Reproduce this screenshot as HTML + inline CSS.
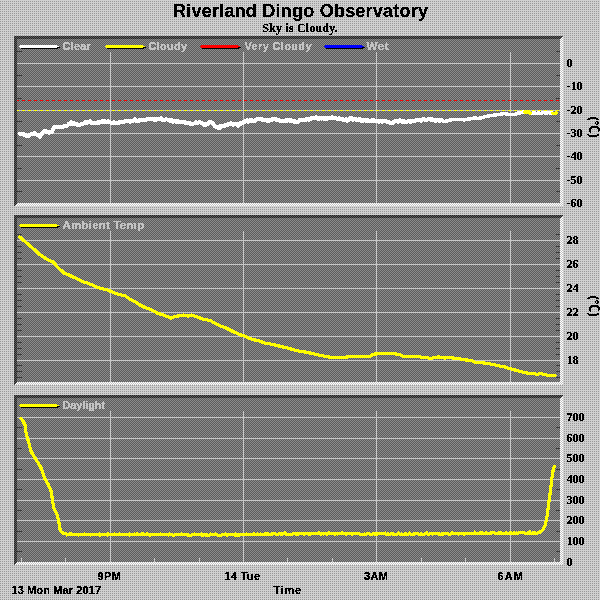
<!DOCTYPE html>
<html><head><meta charset="utf-8"><title>Riverland Dingo Observatory</title>
<style>
html,body{margin:0;padding:0;background:#d0d0d0;}
svg{display:block;}
text{font-family:"Liberation Sans",Arial,sans-serif;}
.ax{font-family:"Liberation Serif","Times New Roman",serif;font-weight:bold;font-size:12px;fill:#000;}
.lg{font-family:"Liberation Sans",Arial,sans-serif;font-weight:bold;font-size:11px;fill:#c4c4c4;}
.xl{font-family:"Liberation Sans",Arial,sans-serif;font-weight:bold;font-size:11px;fill:#000;}
</style></head><body>
<svg width="600" height="600" viewBox="0 0 600 600" shape-rendering="crispEdges">
<defs>
<pattern id="bg" width="2" height="2" patternUnits="userSpaceOnUse"><rect width="2" height="2" fill="#d0d0d0"/><rect x="0" y="1" width="1" height="1" fill="#989898"/></pattern>
<pattern id="pl" width="2" height="2" patternUnits="userSpaceOnUse"><rect width="2" height="2" fill="#8c8c8c"/><rect x="1" y="0" width="1" height="1" fill="#5c5c5c"/><rect x="0" y="1" width="1" height="1" fill="#5c5c5c"/></pattern>
<pattern id="dk" width="2" height="2" patternUnits="userSpaceOnUse"><rect width="2" height="2" fill="#5e5e5e"/><rect x="1" y="0" width="1" height="1" fill="#242424"/><rect x="0" y="1" width="1" height="1" fill="#242424"/></pattern>
<pattern id="lt" width="2" height="2" patternUnits="userSpaceOnUse"><rect width="2" height="2" fill="#c4c4c4"/><rect x="1" y="0" width="1" height="1" fill="#ffffff"/><rect x="0" y="1" width="1" height="1" fill="#ffffff"/></pattern>
<pattern id="tk" width="2" height="2" patternUnits="userSpaceOnUse"><rect width="2" height="2" fill="#2a2a2a"/><rect x="1" y="0" width="1" height="1" fill="#5c5c5c"/><rect x="0" y="1" width="1" height="1" fill="#5c5c5c"/></pattern>
</defs>
<filter id="crisp" x="-5%" y="-20%" width="110%" height="140%"><feComponentTransfer><feFuncA type="discrete" tableValues="0 1 1"/></feComponentTransfer></filter>
<rect width="600" height="600" fill="url(#bg)"/>

<text x="300.5" y="17" text-anchor="middle" textLength="255" lengthAdjust="spacing" filter="url(#crisp)" style="font-weight:bold;font-size:18px;" fill="#000">Riverland Dingo Observatory</text>
<text x="300" y="32" text-anchor="middle" textLength="75.5" lengthAdjust="spacing" filter="url(#crisp)" style="font-family:'Liberation Serif',serif;font-weight:bold;font-size:12px;" fill="#000">Sky is Cloudy.</text>
<rect x="14" y="36" width="549" height="170" fill="url(#lt)"/>
<polygon points="14,36 563,36 560,39 17,39 17,203 14,206" fill="url(#dk)"/>
<rect x="17" y="39" width="543" height="164" fill="url(#pl)"/>
<rect x="14" y="215" width="549" height="170" fill="url(#lt)"/>
<polygon points="14,215 563,215 560,218 17,218 17,382 14,385" fill="url(#dk)"/>
<rect x="17" y="218" width="543" height="164" fill="url(#pl)"/>
<rect x="14" y="395" width="549" height="170" fill="url(#lt)"/>
<polygon points="14,395 563,395 560,398 17,398 17,562 14,565" fill="url(#dk)"/>
<rect x="17" y="398" width="543" height="164" fill="url(#pl)"/>
<rect x="17" y="63" width="543" height="1" fill="#c8c8c8"/>
<rect x="17" y="86" width="543" height="1" fill="#c8c8c8"/>
<rect x="17" y="110" width="543" height="1" fill="#c8c8c8"/>
<rect x="17" y="133" width="543" height="1" fill="#c8c8c8"/>
<rect x="17" y="156" width="543" height="1" fill="#c8c8c8"/>
<rect x="17" y="180" width="543" height="1" fill="#c8c8c8"/>
<rect x="110" y="52" width="1" height="151" fill="#c8c8c8"/>
<rect x="243" y="52" width="1" height="151" fill="#c8c8c8"/>
<rect x="376" y="52" width="1" height="151" fill="#c8c8c8"/>
<rect x="510" y="52" width="1" height="151" fill="#c8c8c8"/>
<rect x="17" y="51" width="5" height="1" fill="#3a3a3a"/><rect x="556" y="51" width="4" height="1" fill="#3a3a3a"/>
<rect x="17" y="75" width="5" height="1" fill="#3a3a3a"/><rect x="556" y="75" width="4" height="1" fill="#3a3a3a"/>
<rect x="17" y="98" width="5" height="1" fill="#3a3a3a"/><rect x="556" y="98" width="4" height="1" fill="#3a3a3a"/>
<rect x="17" y="121" width="5" height="1" fill="#3a3a3a"/><rect x="556" y="121" width="4" height="1" fill="#3a3a3a"/>
<rect x="17" y="145" width="5" height="1" fill="#3a3a3a"/><rect x="556" y="145" width="4" height="1" fill="#3a3a3a"/>
<rect x="17" y="168" width="5" height="1" fill="#3a3a3a"/><rect x="556" y="168" width="4" height="1" fill="#3a3a3a"/>
<rect x="17" y="191" width="5" height="1" fill="#3a3a3a"/><rect x="556" y="191" width="4" height="1" fill="#3a3a3a"/>
<rect x="17" y="100" width="2" height="1" fill="#ff0000"/>
<rect x="17" y="110" width="2" height="1" fill="#ffff00"/>
<rect x="22" y="100" width="3" height="1" fill="#ff0000"/>
<rect x="22" y="110" width="3" height="1" fill="#ffff00"/>
<rect x="28" y="100" width="3" height="1" fill="#ff0000"/>
<rect x="28" y="110" width="3" height="1" fill="#ffff00"/>
<rect x="34" y="100" width="3" height="1" fill="#ff0000"/>
<rect x="34" y="110" width="3" height="1" fill="#ffff00"/>
<rect x="40" y="100" width="3" height="1" fill="#ff0000"/>
<rect x="40" y="110" width="3" height="1" fill="#ffff00"/>
<rect x="46" y="100" width="3" height="1" fill="#ff0000"/>
<rect x="46" y="110" width="3" height="1" fill="#ffff00"/>
<rect x="52" y="100" width="3" height="1" fill="#ff0000"/>
<rect x="52" y="110" width="3" height="1" fill="#ffff00"/>
<rect x="58" y="100" width="3" height="1" fill="#ff0000"/>
<rect x="58" y="110" width="3" height="1" fill="#ffff00"/>
<rect x="64" y="100" width="3" height="1" fill="#ff0000"/>
<rect x="64" y="110" width="3" height="1" fill="#ffff00"/>
<rect x="70" y="100" width="3" height="1" fill="#ff0000"/>
<rect x="70" y="110" width="3" height="1" fill="#ffff00"/>
<rect x="76" y="100" width="3" height="1" fill="#ff0000"/>
<rect x="76" y="110" width="3" height="1" fill="#ffff00"/>
<rect x="82" y="100" width="3" height="1" fill="#ff0000"/>
<rect x="82" y="110" width="3" height="1" fill="#ffff00"/>
<rect x="88" y="100" width="3" height="1" fill="#ff0000"/>
<rect x="88" y="110" width="3" height="1" fill="#ffff00"/>
<rect x="94" y="100" width="3" height="1" fill="#ff0000"/>
<rect x="94" y="110" width="3" height="1" fill="#ffff00"/>
<rect x="100" y="100" width="3" height="1" fill="#ff0000"/>
<rect x="100" y="110" width="3" height="1" fill="#ffff00"/>
<rect x="106" y="100" width="3" height="1" fill="#ff0000"/>
<rect x="106" y="110" width="3" height="1" fill="#ffff00"/>
<rect x="112" y="100" width="3" height="1" fill="#ff0000"/>
<rect x="112" y="110" width="3" height="1" fill="#ffff00"/>
<rect x="118" y="100" width="3" height="1" fill="#ff0000"/>
<rect x="118" y="110" width="3" height="1" fill="#ffff00"/>
<rect x="124" y="100" width="3" height="1" fill="#ff0000"/>
<rect x="124" y="110" width="3" height="1" fill="#ffff00"/>
<rect x="130" y="100" width="3" height="1" fill="#ff0000"/>
<rect x="130" y="110" width="3" height="1" fill="#ffff00"/>
<rect x="136" y="100" width="3" height="1" fill="#ff0000"/>
<rect x="136" y="110" width="3" height="1" fill="#ffff00"/>
<rect x="142" y="100" width="3" height="1" fill="#ff0000"/>
<rect x="142" y="110" width="3" height="1" fill="#ffff00"/>
<rect x="148" y="100" width="3" height="1" fill="#ff0000"/>
<rect x="148" y="110" width="3" height="1" fill="#ffff00"/>
<rect x="154" y="100" width="3" height="1" fill="#ff0000"/>
<rect x="154" y="110" width="3" height="1" fill="#ffff00"/>
<rect x="160" y="100" width="3" height="1" fill="#ff0000"/>
<rect x="160" y="110" width="3" height="1" fill="#ffff00"/>
<rect x="166" y="100" width="3" height="1" fill="#ff0000"/>
<rect x="166" y="110" width="3" height="1" fill="#ffff00"/>
<rect x="172" y="100" width="3" height="1" fill="#ff0000"/>
<rect x="172" y="110" width="3" height="1" fill="#ffff00"/>
<rect x="178" y="100" width="3" height="1" fill="#ff0000"/>
<rect x="178" y="110" width="3" height="1" fill="#ffff00"/>
<rect x="184" y="100" width="3" height="1" fill="#ff0000"/>
<rect x="184" y="110" width="3" height="1" fill="#ffff00"/>
<rect x="190" y="100" width="3" height="1" fill="#ff0000"/>
<rect x="190" y="110" width="3" height="1" fill="#ffff00"/>
<rect x="196" y="100" width="3" height="1" fill="#ff0000"/>
<rect x="196" y="110" width="3" height="1" fill="#ffff00"/>
<rect x="202" y="100" width="3" height="1" fill="#ff0000"/>
<rect x="202" y="110" width="3" height="1" fill="#ffff00"/>
<rect x="208" y="100" width="3" height="1" fill="#ff0000"/>
<rect x="208" y="110" width="3" height="1" fill="#ffff00"/>
<rect x="214" y="100" width="3" height="1" fill="#ff0000"/>
<rect x="214" y="110" width="3" height="1" fill="#ffff00"/>
<rect x="220" y="100" width="3" height="1" fill="#ff0000"/>
<rect x="220" y="110" width="3" height="1" fill="#ffff00"/>
<rect x="226" y="100" width="3" height="1" fill="#ff0000"/>
<rect x="226" y="110" width="3" height="1" fill="#ffff00"/>
<rect x="232" y="100" width="3" height="1" fill="#ff0000"/>
<rect x="232" y="110" width="3" height="1" fill="#ffff00"/>
<rect x="238" y="100" width="3" height="1" fill="#ff0000"/>
<rect x="238" y="110" width="3" height="1" fill="#ffff00"/>
<rect x="244" y="100" width="3" height="1" fill="#ff0000"/>
<rect x="244" y="110" width="3" height="1" fill="#ffff00"/>
<rect x="250" y="100" width="3" height="1" fill="#ff0000"/>
<rect x="250" y="110" width="3" height="1" fill="#ffff00"/>
<rect x="256" y="100" width="3" height="1" fill="#ff0000"/>
<rect x="256" y="110" width="3" height="1" fill="#ffff00"/>
<rect x="262" y="100" width="3" height="1" fill="#ff0000"/>
<rect x="262" y="110" width="3" height="1" fill="#ffff00"/>
<rect x="268" y="100" width="3" height="1" fill="#ff0000"/>
<rect x="268" y="110" width="3" height="1" fill="#ffff00"/>
<rect x="274" y="100" width="3" height="1" fill="#ff0000"/>
<rect x="274" y="110" width="3" height="1" fill="#ffff00"/>
<rect x="280" y="100" width="3" height="1" fill="#ff0000"/>
<rect x="280" y="110" width="3" height="1" fill="#ffff00"/>
<rect x="286" y="100" width="3" height="1" fill="#ff0000"/>
<rect x="286" y="110" width="3" height="1" fill="#ffff00"/>
<rect x="292" y="100" width="3" height="1" fill="#ff0000"/>
<rect x="292" y="110" width="3" height="1" fill="#ffff00"/>
<rect x="298" y="100" width="3" height="1" fill="#ff0000"/>
<rect x="298" y="110" width="3" height="1" fill="#ffff00"/>
<rect x="304" y="100" width="3" height="1" fill="#ff0000"/>
<rect x="304" y="110" width="3" height="1" fill="#ffff00"/>
<rect x="310" y="100" width="3" height="1" fill="#ff0000"/>
<rect x="310" y="110" width="3" height="1" fill="#ffff00"/>
<rect x="316" y="100" width="3" height="1" fill="#ff0000"/>
<rect x="316" y="110" width="3" height="1" fill="#ffff00"/>
<rect x="322" y="100" width="3" height="1" fill="#ff0000"/>
<rect x="322" y="110" width="3" height="1" fill="#ffff00"/>
<rect x="328" y="100" width="3" height="1" fill="#ff0000"/>
<rect x="328" y="110" width="3" height="1" fill="#ffff00"/>
<rect x="334" y="100" width="3" height="1" fill="#ff0000"/>
<rect x="334" y="110" width="3" height="1" fill="#ffff00"/>
<rect x="340" y="100" width="3" height="1" fill="#ff0000"/>
<rect x="340" y="110" width="3" height="1" fill="#ffff00"/>
<rect x="346" y="100" width="3" height="1" fill="#ff0000"/>
<rect x="346" y="110" width="3" height="1" fill="#ffff00"/>
<rect x="352" y="100" width="3" height="1" fill="#ff0000"/>
<rect x="352" y="110" width="3" height="1" fill="#ffff00"/>
<rect x="358" y="100" width="3" height="1" fill="#ff0000"/>
<rect x="358" y="110" width="3" height="1" fill="#ffff00"/>
<rect x="364" y="100" width="3" height="1" fill="#ff0000"/>
<rect x="364" y="110" width="3" height="1" fill="#ffff00"/>
<rect x="370" y="100" width="3" height="1" fill="#ff0000"/>
<rect x="370" y="110" width="3" height="1" fill="#ffff00"/>
<rect x="376" y="100" width="3" height="1" fill="#ff0000"/>
<rect x="376" y="110" width="3" height="1" fill="#ffff00"/>
<rect x="382" y="100" width="3" height="1" fill="#ff0000"/>
<rect x="382" y="110" width="3" height="1" fill="#ffff00"/>
<rect x="388" y="100" width="3" height="1" fill="#ff0000"/>
<rect x="388" y="110" width="3" height="1" fill="#ffff00"/>
<rect x="394" y="100" width="3" height="1" fill="#ff0000"/>
<rect x="394" y="110" width="3" height="1" fill="#ffff00"/>
<rect x="400" y="100" width="3" height="1" fill="#ff0000"/>
<rect x="400" y="110" width="3" height="1" fill="#ffff00"/>
<rect x="406" y="100" width="3" height="1" fill="#ff0000"/>
<rect x="406" y="110" width="3" height="1" fill="#ffff00"/>
<rect x="412" y="100" width="3" height="1" fill="#ff0000"/>
<rect x="412" y="110" width="3" height="1" fill="#ffff00"/>
<rect x="418" y="100" width="3" height="1" fill="#ff0000"/>
<rect x="418" y="110" width="3" height="1" fill="#ffff00"/>
<rect x="424" y="100" width="3" height="1" fill="#ff0000"/>
<rect x="424" y="110" width="3" height="1" fill="#ffff00"/>
<rect x="430" y="100" width="3" height="1" fill="#ff0000"/>
<rect x="430" y="110" width="3" height="1" fill="#ffff00"/>
<rect x="436" y="100" width="3" height="1" fill="#ff0000"/>
<rect x="436" y="110" width="3" height="1" fill="#ffff00"/>
<rect x="442" y="100" width="3" height="1" fill="#ff0000"/>
<rect x="442" y="110" width="3" height="1" fill="#ffff00"/>
<rect x="448" y="100" width="3" height="1" fill="#ff0000"/>
<rect x="448" y="110" width="3" height="1" fill="#ffff00"/>
<rect x="454" y="100" width="3" height="1" fill="#ff0000"/>
<rect x="454" y="110" width="3" height="1" fill="#ffff00"/>
<rect x="460" y="100" width="3" height="1" fill="#ff0000"/>
<rect x="460" y="110" width="3" height="1" fill="#ffff00"/>
<rect x="466" y="100" width="3" height="1" fill="#ff0000"/>
<rect x="466" y="110" width="3" height="1" fill="#ffff00"/>
<rect x="472" y="100" width="3" height="1" fill="#ff0000"/>
<rect x="472" y="110" width="3" height="1" fill="#ffff00"/>
<rect x="478" y="100" width="3" height="1" fill="#ff0000"/>
<rect x="478" y="110" width="3" height="1" fill="#ffff00"/>
<rect x="484" y="100" width="3" height="1" fill="#ff0000"/>
<rect x="484" y="110" width="3" height="1" fill="#ffff00"/>
<rect x="490" y="100" width="3" height="1" fill="#ff0000"/>
<rect x="490" y="110" width="3" height="1" fill="#ffff00"/>
<rect x="496" y="100" width="3" height="1" fill="#ff0000"/>
<rect x="496" y="110" width="3" height="1" fill="#ffff00"/>
<rect x="502" y="100" width="3" height="1" fill="#ff0000"/>
<rect x="502" y="110" width="3" height="1" fill="#ffff00"/>
<rect x="508" y="100" width="3" height="1" fill="#ff0000"/>
<rect x="508" y="110" width="3" height="1" fill="#ffff00"/>
<rect x="514" y="100" width="3" height="1" fill="#ff0000"/>
<rect x="514" y="110" width="3" height="1" fill="#ffff00"/>
<rect x="520" y="100" width="3" height="1" fill="#ff0000"/>
<rect x="520" y="110" width="3" height="1" fill="#ffff00"/>
<rect x="526" y="100" width="3" height="1" fill="#ff0000"/>
<rect x="526" y="110" width="3" height="1" fill="#ffff00"/>
<rect x="532" y="100" width="3" height="1" fill="#ff0000"/>
<rect x="532" y="110" width="3" height="1" fill="#ffff00"/>
<rect x="538" y="100" width="3" height="1" fill="#ff0000"/>
<rect x="538" y="110" width="3" height="1" fill="#ffff00"/>
<rect x="544" y="100" width="3" height="1" fill="#ff0000"/>
<rect x="544" y="110" width="3" height="1" fill="#ffff00"/>
<rect x="550" y="100" width="3" height="1" fill="#ff0000"/>
<rect x="550" y="110" width="3" height="1" fill="#ffff00"/>
<rect x="556" y="100" width="3" height="1" fill="#ff0000"/>
<rect x="556" y="110" width="3" height="1" fill="#ffff00"/>
<text class="ax" x="566.6" y="67" filter="url(#crisp)">0</text><text class="ax" x="566.6" y="90" filter="url(#crisp)">-10</text><text class="ax" x="566.6" y="114" filter="url(#crisp)">-20</text><text class="ax" x="566.6" y="137" filter="url(#crisp)">-30</text><text class="ax" x="566.6" y="160" filter="url(#crisp)">-40</text><text class="ax" x="566.6" y="184" filter="url(#crisp)">-50</text><text class="ax" x="566.6" y="207" filter="url(#crisp)">-60</text>
<polyline points="19.6,133.6 20.7,133.7 21.9,134.5 23.0,133.6 24.0,135.0 25.0,135.2 26.0,135.2 27.0,136.2 28.0,135.6 29.0,135.7 30.0,134.6 31.0,134.1 32.0,134.2 33.0,134.5 34.0,132.8 35.0,133.2 36.0,134.2 37.0,135.0 38.0,134.8 39.0,135.0 40.0,136.6 41.0,133.8 42.0,134.1 43.0,131.9 44.0,131.4 45.0,131.2 46.0,131.3 47.0,132.5 48.0,131.7 49.0,132.7 50.0,132.5 51.0,131.7 52.0,131.7 53.0,129.1 54.0,127.4 55.0,126.9 56.0,127.0 57.0,126.6 58.0,126.5 59.0,127.1 60.0,126.8 61.0,126.5 62.0,127.4 63.0,127.1 64.0,126.1 65.0,126.5 66.0,125.9 67.0,126.0 68.0,125.2 69.0,123.8 70.0,124.4 71.0,122.2 72.0,123.1 73.0,124.0 74.0,123.2 75.0,124.1 76.0,123.6 77.0,125.1 78.0,125.2 79.0,124.7 80.0,125.2 81.0,123.9 82.0,124.4 83.0,124.0 84.0,123.2 85.0,122.3 86.0,122.3 87.0,122.6 88.0,121.9 89.0,122.4 90.0,121.5 91.0,122.8 92.0,122.8 93.0,123.5 94.0,123.4 95.0,122.5 96.0,122.6 97.0,123.1 98.0,121.9 99.0,122.6 100.0,122.0 101.0,121.7 102.0,121.4 103.0,122.5 104.0,121.1 105.0,121.1 106.0,121.5 107.0,122.4 108.0,121.1 109.0,121.8 110.0,122.1 111.0,122.9 112.0,122.9 113.0,123.2 114.0,122.3 115.0,122.7 116.0,122.5 117.0,123.4 118.0,123.4 119.0,121.8 120.0,121.7 121.0,121.7 122.0,121.5 123.0,121.9 124.0,121.9 125.0,121.2 126.0,120.6 127.0,121.2 128.0,121.0 129.0,121.2 130.0,121.8 131.0,121.1 132.0,120.6 133.0,120.6 134.0,120.4 135.0,119.1 136.0,120.7 137.0,120.5 138.0,120.7 139.0,120.6 140.0,119.9 141.0,120.0 142.0,119.5 143.0,120.5 144.0,119.6 145.0,119.6 146.0,119.7 147.0,119.4 148.0,119.5 149.0,118.8 150.0,118.5 151.0,118.9 152.0,118.8 153.0,119.4 154.0,118.9 155.0,120.5 156.0,119.8 157.0,118.8 158.0,118.8 159.0,118.7 160.0,118.6 161.0,118.4 162.0,119.9 163.0,120.5 164.0,119.8 165.0,120.1 166.0,119.4 167.0,119.5 168.0,120.0 169.0,119.9 170.0,121.0 171.0,120.0 172.0,120.0 173.0,121.9 174.0,121.4 175.0,121.0 176.0,121.7 177.0,120.7 178.0,121.7 179.0,122.5 180.0,122.3 181.0,122.1 182.0,121.5 183.0,121.8 184.0,121.6 185.0,122.8 186.0,122.5 187.0,123.2 188.0,122.5 189.0,122.5 190.0,123.8 191.0,124.0 192.0,123.7 193.0,123.6 194.0,123.5 195.0,123.3 196.0,122.4 197.0,122.9 198.0,122.6 199.0,122.1 200.0,122.1 201.0,122.8 202.0,123.1 203.0,124.1 204.0,124.9 205.0,124.3 206.0,124.7 207.0,124.3 208.0,123.8 209.0,122.2 210.0,121.5 211.0,122.1 212.0,122.7 213.0,123.3 214.0,124.9 215.0,126.3 216.0,127.0 217.0,126.9 218.0,127.7 219.0,128.4 220.0,126.4 221.0,126.7 222.0,126.4 223.0,126.2 224.0,126.2 225.0,125.7 226.0,124.7 227.0,125.3 228.0,124.1 229.0,124.5 230.0,124.3 231.0,123.4 232.0,123.6 233.0,124.7 234.0,124.4 235.0,123.6 236.0,123.8 237.0,124.2 238.0,125.8 239.0,125.0 240.0,123.1 241.0,123.6 242.0,123.2 243.0,122.4 244.0,121.6 245.0,121.7 246.0,120.7 247.0,120.2 248.0,121.6 249.0,120.7 250.0,120.1 251.0,121.0 252.0,120.2 253.0,121.1 254.0,121.2 255.0,120.2 256.0,119.8 257.0,119.4 258.0,118.8 259.0,119.0 260.0,118.6 261.0,119.1 262.0,118.8 263.0,120.4 264.0,119.6 265.0,120.0 266.0,120.3 267.0,120.8 268.0,120.0 269.0,120.9 270.0,120.1 271.0,120.0 272.0,119.9 273.0,118.8 274.0,119.4 275.0,118.8 276.0,118.8 277.0,120.5 278.0,119.6 279.0,120.4 280.0,121.1 281.0,120.8 282.0,120.5 283.0,120.9 284.0,121.0 285.0,121.4 286.0,120.0 287.0,120.7 288.0,120.0 289.0,119.9 290.0,120.6 291.0,120.3 292.0,120.6 293.0,121.1 294.0,121.6 295.0,120.9 296.0,121.9 297.0,122.3 298.0,121.5 299.0,121.0 300.0,119.7 301.0,119.8 302.0,119.6 303.0,120.4 304.0,119.8 305.0,120.1 306.0,120.1 307.0,118.7 308.0,119.1 309.0,119.7 310.0,119.4 311.0,118.0 312.0,117.9 313.0,118.3 314.0,117.6 315.0,117.7 316.0,117.4 317.0,118.5 318.0,118.7 319.0,118.9 320.0,117.6 321.0,118.6 322.0,118.5 323.0,117.6 324.0,118.9 325.0,119.0 326.0,117.6 327.0,118.8 328.0,117.7 329.0,117.7 330.0,118.5 331.0,118.4 332.0,117.4 333.0,118.0 334.0,118.3 335.0,118.2 336.0,118.1 337.0,118.5 338.0,119.4 339.0,118.4 340.0,119.5 341.0,119.4 342.0,118.8 343.0,119.5 344.0,120.2 345.0,120.1 346.0,119.1 347.0,120.6 348.0,120.0 349.0,120.2 350.0,118.4 351.0,118.7 352.0,118.3 353.0,119.7 354.0,118.7 355.0,118.5 356.0,119.2 357.0,120.2 358.0,120.2 359.0,119.3 360.0,119.3 361.0,120.8 362.0,120.3 363.0,120.7 364.0,119.8 365.0,119.9 366.0,121.0 367.0,120.6 368.0,119.9 369.0,121.5 370.0,120.9 371.0,121.2 372.0,120.0 373.0,121.3 374.0,119.9 375.0,121.4 376.0,120.7 377.0,120.7 378.0,121.2 379.0,121.9 380.0,120.9 381.0,120.8 382.0,121.6 383.0,121.2 384.0,121.2 385.0,121.4 386.0,121.3 387.0,121.7 388.0,122.0 389.0,122.1 390.0,123.1 391.0,122.6 392.0,123.4 393.0,122.4 394.0,122.2 395.0,121.1 396.0,121.3 397.0,120.6 398.0,121.6 399.0,121.1 400.0,120.1 401.0,120.8 402.0,121.9 403.0,120.6 404.0,122.0 405.0,121.5 406.0,121.6 407.0,122.1 408.0,121.2 409.0,121.4 410.0,121.6 411.0,122.0 412.0,120.7 413.0,121.4 414.0,121.0 415.0,120.6 416.0,120.2 417.0,120.1 418.0,119.6 419.0,119.7 420.0,119.6 421.0,120.6 422.0,119.6 423.0,119.2 424.0,118.9 425.0,120.0 426.0,120.1 427.0,119.9 428.0,119.2 429.0,119.3 430.0,119.4 431.0,119.8 432.0,119.3 433.0,119.9 434.0,119.7 435.0,121.0 436.0,121.1 437.0,120.4 438.0,119.9 439.0,121.2 440.0,120.2 441.0,120.5 442.0,120.3" fill="none" stroke="#ffffff" stroke-width="4.0" stroke-linejoin="round" stroke-linecap="round" shape-rendering="crispEdges"/>
<polyline points="438.0,119.9 439.0,121.2 440.0,120.2 441.0,120.5 442.0,120.3 443.0,120.9 444.0,121.2 445.0,121.4 446.0,120.9 447.0,121.0 448.0,120.3 449.0,120.4 450.0,120.0 451.0,120.2 452.0,119.7 453.0,119.6 454.0,119.7 455.0,119.5 456.0,119.8 457.0,119.6 458.0,119.7 459.0,119.4 460.0,119.4 461.0,119.7 462.0,119.3 463.0,119.4 464.0,120.2 465.0,119.4 466.0,119.8 467.0,119.4 468.0,118.6 469.0,119.1 470.0,118.9 471.0,118.6 472.0,118.6 473.0,118.6 474.0,117.9 475.0,118.2 476.0,118.1 477.0,118.4 478.0,118.3 479.0,118.3 480.0,118.0 481.0,118.2 482.0,117.8 483.0,117.7 484.0,117.1 485.0,116.8 486.0,116.6 487.0,116.5 488.0,115.9 489.0,116.4 490.0,115.8 491.0,115.6 492.0,115.5 493.0,115.3 494.0,115.0 495.0,114.3 496.0,115.0 497.0,114.8 498.0,114.4 499.0,114.4 500.0,114.4 501.0,113.7 502.0,114.3 503.0,113.8 504.0,113.5 505.0,113.7 506.0,114.2 507.0,113.8 508.0,114.4 509.0,114.8 510.0,114.4 511.0,114.2 512.0,114.3 513.0,114.4 514.0,114.5 515.0,114.3 516.0,114.0 517.0,113.2 518.0,113.0 519.0,112.9 520.0,113.1 521.0,112.5 522.0,112.6 523.0,111.8 524.0,111.7 525.0,111.9 526.0,112.2 527.0,112.2 528.0,112.1 529.0,112.2 530.0,112.9 531.0,113.4 532.0,113.3 533.0,112.9 534.0,113.6 535.0,112.8 536.0,113.6 537.0,113.6 538.0,112.7 539.0,113.1 540.0,113.5 541.0,113.6 542.0,113.0 543.0,112.8 544.0,112.7 545.0,113.3 546.0,112.6 547.0,112.9 548.0,112.4 549.0,112.7 550.0,113.1 551.0,112.4 552.0,113.3 553.0,113.2 554.0,113.5 555.0,113.4 556.0,112.9" fill="none" stroke="#ffffff" stroke-width="3.4" stroke-linejoin="round" stroke-linecap="round" shape-rendering="crispEdges"/>
<polyline points="525.0,111.9 526.0,112.2 527.0,112.2 528.0,112.1 529.0,112.2 530.0,112.9" fill="none" stroke="#ffff00" stroke-width="4" stroke-linejoin="round" stroke-linecap="round" shape-rendering="crispEdges"/>
<polyline points="553.0,113.2 554.0,113.5 555.0,113.4 556.0,112.9" fill="none" stroke="#ffff00" stroke-width="3.4" stroke-linejoin="round" stroke-linecap="round" shape-rendering="crispEdges"/>
<rect x="20" y="47" width="40" height="1" fill="#000"/><rect x="21" y="48" width="37" height="1" fill="#000"/><rect x="20" y="45" width="37" height="1" fill="#ffffff"/><rect x="19" y="46" width="40" height="1" fill="#ffffff"/><rect x="20" y="47" width="37" height="1" fill="#ffffff"/><text class="lg" x="62.5" y="50" textLength="28.5" lengthAdjust="spacing" filter="url(#crisp)">Clear</text>
<rect x="106" y="47" width="40" height="1" fill="#000"/><rect x="107" y="48" width="37" height="1" fill="#000"/><rect x="106" y="45" width="37" height="1" fill="#ffff00"/><rect x="105" y="46" width="40" height="1" fill="#ffff00"/><rect x="106" y="47" width="37" height="1" fill="#ffff00"/><text class="lg" x="148.5" y="50" textLength="38.5" lengthAdjust="spacing" filter="url(#crisp)">Cloudy</text>
<rect x="201" y="47" width="40" height="1" fill="#000"/><rect x="202" y="48" width="37" height="1" fill="#000"/><rect x="201" y="45" width="37" height="1" fill="#ff0000"/><rect x="200" y="46" width="40" height="1" fill="#ff0000"/><rect x="201" y="47" width="37" height="1" fill="#ff0000"/><text class="lg" x="244.5" y="50" textLength="67" lengthAdjust="spacing" filter="url(#crisp)">Very Cloudy</text>
<rect x="325" y="47" width="40" height="1" fill="#000"/><rect x="326" y="48" width="37" height="1" fill="#000"/><rect x="325" y="45" width="37" height="1" fill="#0000ff"/><rect x="324" y="46" width="40" height="1" fill="#0000ff"/><rect x="325" y="47" width="37" height="1" fill="#0000ff"/><text class="lg" x="366.5" y="50" textLength="22" lengthAdjust="spacing" style="font-size:11.6px" filter="url(#crisp)">Wet</text>
<text x="589.5" y="117" transform="rotate(90 589.5 117)" textLength="20.2" lengthAdjust="spacingAndGlyphs" filter="url(#crisp)" style="font-family:'Liberation Serif',serif;font-weight:bold;font-size:15px;" fill="#000">(°C)</text>
<text x="589.5" y="296" transform="rotate(90 589.5 296)" textLength="20.2" lengthAdjust="spacingAndGlyphs" filter="url(#crisp)" style="font-family:'Liberation Serif',serif;font-weight:bold;font-size:15px;" fill="#000">(°C)</text>
<rect x="17" y="240" width="543" height="1" fill="#c8c8c8"/>
<rect x="17" y="264" width="543" height="1" fill="#c8c8c8"/>
<rect x="17" y="288" width="543" height="1" fill="#c8c8c8"/>
<rect x="17" y="312" width="543" height="1" fill="#c8c8c8"/>
<rect x="17" y="336" width="543" height="1" fill="#c8c8c8"/>
<rect x="17" y="360" width="543" height="1" fill="#c8c8c8"/>
<rect x="110" y="231" width="1" height="151" fill="#c8c8c8"/>
<rect x="243" y="231" width="1" height="151" fill="#c8c8c8"/>
<rect x="376" y="231" width="1" height="151" fill="#c8c8c8"/>
<rect x="510" y="231" width="1" height="151" fill="#c8c8c8"/>
<rect x="17" y="377" width="5" height="1" fill="#3a3a3a"/><rect x="556" y="377" width="4" height="1" fill="#3a3a3a"/>
<rect x="17" y="371" width="5" height="1" fill="#3a3a3a"/><rect x="556" y="371" width="4" height="1" fill="#3a3a3a"/>
<rect x="17" y="365" width="5" height="1" fill="#3a3a3a"/><rect x="556" y="365" width="4" height="1" fill="#3a3a3a"/>
<rect x="17" y="354" width="5" height="1" fill="#3a3a3a"/><rect x="556" y="354" width="4" height="1" fill="#3a3a3a"/>
<rect x="17" y="348" width="5" height="1" fill="#3a3a3a"/><rect x="556" y="348" width="4" height="1" fill="#3a3a3a"/>
<rect x="17" y="342" width="5" height="1" fill="#3a3a3a"/><rect x="556" y="342" width="4" height="1" fill="#3a3a3a"/>
<rect x="17" y="330" width="5" height="1" fill="#3a3a3a"/><rect x="556" y="330" width="4" height="1" fill="#3a3a3a"/>
<rect x="17" y="324" width="5" height="1" fill="#3a3a3a"/><rect x="556" y="324" width="4" height="1" fill="#3a3a3a"/>
<rect x="17" y="318" width="5" height="1" fill="#3a3a3a"/><rect x="556" y="318" width="4" height="1" fill="#3a3a3a"/>
<rect x="17" y="306" width="5" height="1" fill="#3a3a3a"/><rect x="556" y="306" width="4" height="1" fill="#3a3a3a"/>
<rect x="17" y="300" width="5" height="1" fill="#3a3a3a"/><rect x="556" y="300" width="4" height="1" fill="#3a3a3a"/>
<rect x="17" y="294" width="5" height="1" fill="#3a3a3a"/><rect x="556" y="294" width="4" height="1" fill="#3a3a3a"/>
<rect x="17" y="282" width="5" height="1" fill="#3a3a3a"/><rect x="556" y="282" width="4" height="1" fill="#3a3a3a"/>
<rect x="17" y="276" width="5" height="1" fill="#3a3a3a"/><rect x="556" y="276" width="4" height="1" fill="#3a3a3a"/>
<rect x="17" y="270" width="5" height="1" fill="#3a3a3a"/><rect x="556" y="270" width="4" height="1" fill="#3a3a3a"/>
<rect x="17" y="258" width="5" height="1" fill="#3a3a3a"/><rect x="556" y="258" width="4" height="1" fill="#3a3a3a"/>
<rect x="17" y="252" width="5" height="1" fill="#3a3a3a"/><rect x="556" y="252" width="4" height="1" fill="#3a3a3a"/>
<rect x="17" y="246" width="5" height="1" fill="#3a3a3a"/><rect x="556" y="246" width="4" height="1" fill="#3a3a3a"/>
<rect x="17" y="234" width="5" height="1" fill="#3a3a3a"/><rect x="556" y="234" width="4" height="1" fill="#3a3a3a"/>
<text class="ax" x="566.6" y="244" filter="url(#crisp)">28</text><text class="ax" x="566.6" y="268" filter="url(#crisp)">26</text><text class="ax" x="566.6" y="292" filter="url(#crisp)">24</text><text class="ax" x="566.6" y="316" filter="url(#crisp)">22</text><text class="ax" x="566.6" y="340" filter="url(#crisp)">20</text><text class="ax" x="566.6" y="364" filter="url(#crisp)">18</text>
<polyline points="19.5,237.0 20.7,237.5 22.4,239.2 24.0,240.8 26.5,242.9 29.0,245.0 31.5,247.1 34.0,249.2 36.5,251.7 39.0,254.2 41.1,255.4 43.2,256.7 45.2,258.2 47.3,259.7 49.3,260.5 51.2,261.2 53.2,262.0 54.9,263.9 56.5,265.8 58.6,267.9 60.7,270.0 62.4,271.5 64.0,273.0 66.5,274.0 69.0,275.0 71.5,276.2 74.0,277.5 76.5,278.6 79.0,279.7 80.7,280.7 82.3,281.7 84.8,282.4 87.3,283.0 89.8,284.0 92.3,285.0 94.8,286.1 97.3,287.2 99.8,288.0 102.3,288.8 104.8,289.4 107.3,290.0 109.0,290.6 110.8,291.3 112.9,292.3 115.0,293.3 117.5,294.0 120.0,294.7 122.5,295.2 125.0,295.8 127.5,297.5 130.0,299.2 132.5,300.4 135.0,301.7 137.5,303.4 140.0,305.0 142.5,306.2 145.0,307.5 147.5,308.4 150.0,309.2 152.1,310.2 154.2,311.3 155.8,312.3 157.5,313.3 159.6,313.9 161.7,314.5 164.2,315.4 166.7,316.3 168.8,317.3 170.8,318.3 172.9,317.3 175.0,316.3 177.5,316.1 180.0,315.8 181.7,315.4 183.3,315.0 185.8,315.6 188.3,316.2 190.0,315.6 191.7,315.0 194.2,315.9 196.7,316.7 199.2,317.7 201.7,318.7 203.3,319.2 205.0,319.7 207.5,320.0 210.0,320.3 212.5,321.8 215.0,323.3 217.5,324.6 220.0,325.8 222.5,326.6 225.0,327.5 227.5,328.8 230.0,330.0 232.5,331.2 235.0,332.5 237.5,333.6 240.0,334.7 242.5,335.5 245.0,336.3 247.5,337.5 250.0,338.7 252.5,339.4 255.0,340.0 257.5,340.6 260.0,341.2 262.5,342.2 265.0,343.3 267.5,343.6 270.0,343.8 272.5,344.4 275.0,345.0 277.5,345.6 280.0,346.3 282.5,346.9 285.0,347.5 287.5,348.1 290.0,348.7 292.5,349.5 295.0,350.3 297.5,350.8 300.0,351.3 302.5,351.6 305.0,352.0 307.5,352.5 310.0,353.0 312.5,353.6 315.0,354.2 317.5,354.8 320.0,355.3 322.5,355.8 325.0,356.3 327.2,356.7 329.5,357.1 331.7,357.5 333.8,357.5 335.9,357.5 337.9,357.5 340.0,357.5 342.2,357.4 344.5,357.3 346.7,357.2 348.3,356.2 350.5,356.2 352.8,356.2 355.0,356.2 357.1,356.2 359.1,356.2 361.2,356.2 363.3,356.2 365.5,356.2 367.8,356.2 370.0,356.2 371.6,355.2 373.3,354.2 375.8,354.0 378.3,353.8 380.4,353.8 382.5,353.8 384.6,353.8 386.7,353.8 388.9,353.8 391.1,353.7 393.3,353.7 395.5,354.0 397.8,354.2 400.0,354.5 402.5,356.2 404.4,356.2 406.2,356.2 408.1,356.2 410.0,356.2 412.1,356.2 414.1,356.2 416.2,356.3 418.3,356.3 420.0,356.9 421.7,357.5 423.9,357.6 426.1,357.7 428.3,357.8 430.8,358.7 432.5,358.1 434.2,357.5 436.2,357.2 438.3,357.0 440.8,357.2 443.3,357.5 445.0,358.3 446.6,357.8 448.3,357.2 450.4,357.6 452.5,358.0 454.4,358.1 456.4,358.2 458.3,358.3 460.0,358.9 461.7,359.5 464.2,359.8 466.7,360.0 469.2,360.4 471.7,360.8 473.4,361.5 475.0,362.2 477.2,362.3 479.5,362.4 481.7,362.5 483.4,362.9 485.0,363.2 486.8,363.4 488.5,363.7 490.3,363.9 492.1,364.3 493.9,364.6 495.7,365.0 497.7,365.5 499.7,366.0 501.5,366.3 503.2,366.7 505.0,367.0 507.7,368.3 509.5,368.7 511.2,369.0 513.0,369.4 515.0,370.0 517.0,370.6 519.0,371.1 521.0,371.7 523.0,372.1 525.0,372.6 527.0,373.0 529.0,373.4 530.8,373.5 532.5,373.6 534.3,373.7 537.0,374.6 539.7,373.3 541.7,373.8 543.7,374.3 545.7,374.9 547.7,375.4 549.5,375.4 551.4,375.4 553.2,375.4 555.0,375.4" fill="none" stroke="#ffff00" stroke-width="3.2" stroke-linejoin="round" stroke-linecap="round" shape-rendering="crispEdges"/>
<rect x="20" y="226" width="40" height="1" fill="#000"/><rect x="21" y="227" width="37" height="1" fill="#000"/><rect x="20" y="224" width="37" height="1" fill="#ffff00"/><rect x="19" y="225" width="40" height="1" fill="#ffff00"/><rect x="20" y="226" width="37" height="1" fill="#ffff00"/><text class="lg" x="62.5" y="229" textLength="81.5" lengthAdjust="spacing" style="font-size:11.6px" filter="url(#crisp)">Ambient Temp</text>
<rect x="17" y="417" width="543" height="1" fill="#c8c8c8"/>
<rect x="17" y="438" width="543" height="1" fill="#c8c8c8"/>
<rect x="17" y="458" width="543" height="1" fill="#c8c8c8"/>
<rect x="17" y="479" width="543" height="1" fill="#c8c8c8"/>
<rect x="17" y="500" width="543" height="1" fill="#c8c8c8"/>
<rect x="17" y="520" width="543" height="1" fill="#c8c8c8"/>
<rect x="17" y="541" width="543" height="1" fill="#c8c8c8"/>
<rect x="110" y="411" width="1" height="151" fill="#c8c8c8"/>
<rect x="243" y="411" width="1" height="151" fill="#c8c8c8"/>
<rect x="376" y="411" width="1" height="151" fill="#c8c8c8"/>
<rect x="510" y="411" width="1" height="151" fill="#c8c8c8"/>
<rect x="17" y="427" width="5" height="1" fill="#3a3a3a"/><rect x="556" y="427" width="4" height="1" fill="#3a3a3a"/>
<rect x="17" y="448" width="5" height="1" fill="#3a3a3a"/><rect x="556" y="448" width="4" height="1" fill="#3a3a3a"/>
<rect x="17" y="469" width="5" height="1" fill="#3a3a3a"/><rect x="556" y="469" width="4" height="1" fill="#3a3a3a"/>
<rect x="17" y="489" width="5" height="1" fill="#3a3a3a"/><rect x="556" y="489" width="4" height="1" fill="#3a3a3a"/>
<rect x="17" y="510" width="5" height="1" fill="#3a3a3a"/><rect x="556" y="510" width="4" height="1" fill="#3a3a3a"/>
<rect x="17" y="531" width="5" height="1" fill="#3a3a3a"/><rect x="556" y="531" width="4" height="1" fill="#3a3a3a"/>
<rect x="17" y="551" width="5" height="1" fill="#3a3a3a"/><rect x="556" y="551" width="4" height="1" fill="#3a3a3a"/>
<rect x="21" y="558" width="1" height="4" fill="#c8c8c8"/>
<rect x="65" y="558" width="1" height="4" fill="#c8c8c8"/>
<rect x="154" y="558" width="1" height="4" fill="#c8c8c8"/>
<rect x="199" y="558" width="1" height="4" fill="#c8c8c8"/>
<rect x="287" y="558" width="1" height="4" fill="#c8c8c8"/>
<rect x="332" y="558" width="1" height="4" fill="#c8c8c8"/>
<rect x="421" y="558" width="1" height="4" fill="#c8c8c8"/>
<rect x="465" y="558" width="1" height="4" fill="#c8c8c8"/>
<rect x="554" y="558" width="1" height="4" fill="#c8c8c8"/>
<text class="ax" x="566.6" y="421" filter="url(#crisp)">700</text><text class="ax" x="566.6" y="442" filter="url(#crisp)">600</text><text class="ax" x="566.6" y="462" filter="url(#crisp)">500</text><text class="ax" x="566.6" y="483" filter="url(#crisp)">400</text><text class="ax" x="566.6" y="504" filter="url(#crisp)">300</text><text class="ax" x="566.6" y="524" filter="url(#crisp)">200</text><text class="ax" x="566.6" y="545" filter="url(#crisp)">100</text><text class="ax" x="566.6" y="566" filter="url(#crisp)">0</text>
<polyline points="21.0,418.5 23.0,421.0 25.0,425.0 25.5,430.0 26.5,435.0 28.0,440.0 29.5,445.0 30.5,450.0 32.5,454.0 33.8,456.0 35.0,458.0 36.2,460.0 37.5,462.0 38.8,464.0 40.0,466.0 41.5,469.0 42.9,473.4 44.3,477.7 46.0,480.6 47.8,483.5 49.3,487.0 50.9,490.5 52.5,499.8 53.7,508.0 55.5,511.5 57.2,515.0 58.8,522.0 60.2,530.2 62.0,532.5 64.2,533.7 65.8,533.9 67.4,534.5 69.1,534.2 70.7,533.9 72.3,534.1 73.8,534.6 75.4,534.5 76.9,534.4 78.5,534.2 80.0,534.4 81.5,534.4 83.1,534.9 84.6,534.1 86.2,534.8 87.7,534.9 89.2,534.2 90.8,535.0 92.3,534.7 93.8,534.9 95.4,534.3 96.9,534.4 98.5,534.4 100.0,535.0 101.5,534.6 103.0,534.4 104.5,534.4 106.1,534.3 107.6,534.0 109.1,534.1 110.6,534.8 112.1,534.3 113.6,534.9 115.2,534.2 116.7,534.2 118.2,534.5 119.7,534.2 121.2,534.3 122.7,534.9 124.2,534.8 125.8,534.8 127.3,534.6 128.8,534.9 130.3,534.9 131.8,534.5 133.3,534.7 134.8,534.0 136.4,534.7 137.9,534.4 139.4,534.7 140.9,534.6 142.4,534.2 143.9,534.0 145.5,534.8 147.0,534.0 148.5,534.4 150.0,534.2 151.5,534.2 153.0,534.7 154.5,534.9 156.1,534.2 157.6,534.6 159.1,534.3 160.6,534.6 162.1,534.4 163.6,534.2 165.1,534.2 166.7,534.3 168.2,535.0 169.7,534.6 171.2,534.4 172.7,535.1 174.2,535.2 175.7,534.6 177.3,534.3 178.8,534.4 180.3,534.3 181.8,534.6 183.3,534.4 184.8,534.5 186.3,534.6 187.9,534.9 189.4,535.2 190.9,535.1 192.4,534.8 193.9,534.8 195.4,534.9 196.9,534.8 198.5,534.8 200.0,534.5 201.5,534.8 203.0,535.5 204.5,534.6 206.0,535.0 207.5,535.1 209.1,535.3 210.6,534.6 212.1,534.7 213.6,534.6 215.1,534.7 216.6,534.8 218.2,535.3 219.7,535.1 221.2,535.1 222.7,534.3 224.2,534.3 225.7,534.9 227.3,535.1 228.8,534.6 230.3,534.7 231.8,534.1 233.3,534.5 234.8,535.0 236.4,534.9 237.9,534.9 239.4,535.0 240.9,534.3 242.4,534.1 243.9,534.1 245.5,534.5 247.0,534.6 248.5,534.9 250.0,534.6 251.5,534.5 253.0,534.6 254.5,534.3 256.0,534.4 257.5,533.9 259.1,534.6 260.6,534.0 262.1,534.7 263.6,534.4 265.1,534.1 266.6,533.9 268.1,534.0 269.6,534.3 271.1,534.4 272.6,533.8 274.1,533.7 275.7,534.2 277.2,534.2 278.7,534.0 280.2,533.8 281.7,534.2 283.2,533.6 284.7,533.9 286.2,534.0 287.7,534.5 289.2,534.2 290.7,534.4 292.3,534.0 293.8,533.7 295.3,533.7 296.8,534.4 298.3,534.1 299.8,533.7 301.3,533.4 302.8,533.9 304.3,534.1 305.8,533.8 307.3,533.6 308.9,534.0 310.4,534.2 311.9,533.5 313.4,533.3 314.9,533.6 316.4,533.7 317.9,533.9 319.4,533.4 320.9,534.0 322.4,533.9 323.9,533.7 325.5,533.4 327.0,534.1 328.5,533.5 330.0,533.9 331.5,533.3 333.0,533.3 334.5,533.9 336.0,533.4 337.5,534.1 339.0,533.6 340.4,533.4 341.9,533.4 343.4,533.6 344.9,533.9 346.4,534.2 347.9,533.4 349.4,533.6 350.9,533.5 352.4,534.2 353.8,533.4 355.3,533.4 356.8,533.4 358.3,533.7 359.8,534.2 361.3,534.2 362.8,534.1 364.3,534.4 365.8,534.3 367.2,533.7 368.7,533.6 370.2,534.4 371.7,534.2 373.2,533.5 374.7,534.1 376.2,533.9 377.7,533.9 379.2,533.8 380.6,533.7 382.1,533.5 383.6,533.8 385.1,533.9 386.6,534.5 388.1,533.7 389.6,534.6 391.1,533.8 392.6,534.0 394.0,534.5 395.5,534.5 397.0,534.1 398.5,533.7 400.0,534.2 401.5,534.1 403.0,534.6 404.5,533.8 406.0,534.0 407.4,534.5 408.9,533.6 410.4,534.0 411.9,534.4 413.4,534.3 414.9,533.6 416.4,533.5 417.9,533.6 419.4,534.4 420.9,533.7 422.3,534.2 423.8,534.3 425.3,533.7 426.8,533.7 428.3,534.3 429.8,534.0 431.3,533.6 432.8,534.0 434.3,533.6 435.7,533.6 437.2,533.3 438.7,534.0 440.2,534.2 441.7,533.9 443.2,534.1 444.7,533.2 446.2,533.4 447.7,533.6 449.1,534.1 450.6,534.1 452.1,533.5 453.6,533.3 455.1,533.5 456.6,533.5 458.1,534.0 459.6,533.2 461.1,533.8 462.6,533.7 464.0,533.8 465.5,533.7 467.0,533.5 468.5,533.2 470.0,533.2 471.5,533.3 473.0,533.7 474.5,533.0 476.0,533.1 477.5,533.6 479.0,533.1 480.5,532.9 482.0,532.9 483.5,533.4 485.0,533.1 486.5,533.8 488.0,533.7 489.5,533.8 491.0,533.0 492.5,532.8 494.0,532.9 495.5,533.2 497.0,533.4 498.5,533.2 500.0,533.0 501.5,533.1 503.0,533.3 504.5,533.4 506.0,533.4 507.5,533.5 509.0,533.3 510.5,532.8 512.0,533.5 513.5,532.9 515.0,533.2 516.5,533.0 518.0,533.3 519.5,532.8 521.0,532.8 522.5,532.8 524.0,532.7 525.5,533.4 527.0,533.1 528.5,532.9 530.0,532.9 531.5,533.5 533.0,533.0 534.5,532.7 536.0,533.3 537.9,532.8 539.7,532.2 541.2,531.1 542.7,530.0 543.9,527.8 545.0,525.5 546.5,519.5 547.7,512.0 548.7,503.0 549.8,495.5 551.0,486.5 552.0,477.5 553.2,470.0 554.7,466.2" fill="none" stroke="#ffff00" stroke-width="3.2" stroke-linejoin="round" stroke-linecap="round" shape-rendering="crispEdges"/>
<rect x="66" y="536" width="1" height="1" fill="#ffff00"/>
<rect x="78" y="536" width="1" height="1" fill="#ffff00"/>
<rect x="90" y="536" width="1" height="1" fill="#ffff00"/>
<rect x="99" y="532" width="1" height="1" fill="#ffff00"/>
<rect x="107" y="536" width="1" height="1" fill="#ffff00"/>
<rect x="114" y="532" width="1" height="1" fill="#ffff00"/>
<rect x="119" y="532" width="1" height="1" fill="#ffff00"/>
<rect x="129" y="532" width="1" height="1" fill="#ffff00"/>
<rect x="136" y="532" width="2" height="1" fill="#ffff00"/>
<rect x="141" y="532" width="2" height="1" fill="#ffff00"/>
<rect x="149" y="536" width="2" height="1" fill="#ffff00"/>
<rect x="160" y="532" width="1" height="1" fill="#ffff00"/>
<rect x="169" y="532" width="1" height="1" fill="#ffff00"/>
<rect x="181" y="532" width="1" height="1" fill="#ffff00"/>
<rect x="187" y="536" width="2" height="1" fill="#ffff00"/>
<rect x="194" y="532" width="1" height="1" fill="#ffff00"/>
<rect x="201" y="532" width="1" height="1" fill="#ffff00"/>
<rect x="210" y="532" width="1" height="1" fill="#ffff00"/>
<rect x="215" y="532" width="1" height="1" fill="#ffff00"/>
<rect x="225" y="532" width="1" height="1" fill="#ffff00"/>
<rect x="235" y="532" width="1" height="1" fill="#ffff00"/>
<rect x="246" y="532" width="1" height="1" fill="#ffff00"/>
<rect x="253" y="532" width="2" height="1" fill="#ffff00"/>
<rect x="264" y="532" width="1" height="1" fill="#ffff00"/>
<rect x="271" y="532" width="1" height="1" fill="#ffff00"/>
<rect x="278" y="532" width="2" height="1" fill="#ffff00"/>
<rect x="284" y="531" width="2" height="1" fill="#ffff00"/>
<rect x="297" y="532" width="1" height="1" fill="#ffff00"/>
<rect x="304" y="532" width="2" height="1" fill="#ffff00"/>
<rect x="310" y="532" width="2" height="1" fill="#ffff00"/>
<rect x="318" y="531" width="2" height="1" fill="#ffff00"/>
<rect x="323" y="535" width="1" height="1" fill="#ffff00"/>
<rect x="328" y="531" width="2" height="1" fill="#ffff00"/>
<rect x="334" y="535" width="2" height="1" fill="#ffff00"/>
<rect x="341" y="531" width="2" height="1" fill="#ffff00"/>
<rect x="352" y="532" width="1" height="1" fill="#ffff00"/>
<rect x="364" y="532" width="1" height="1" fill="#ffff00"/>
<rect x="375" y="535" width="1" height="1" fill="#ffff00"/>
<rect x="385" y="531" width="1" height="1" fill="#ffff00"/>
<rect x="393" y="532" width="1" height="1" fill="#ffff00"/>
<rect x="398" y="531" width="1" height="1" fill="#ffff00"/>
<rect x="409" y="531" width="1" height="1" fill="#ffff00"/>
<rect x="418" y="532" width="1" height="1" fill="#ffff00"/>
<rect x="426" y="531" width="2" height="1" fill="#ffff00"/>
<rect x="438" y="532" width="1" height="1" fill="#ffff00"/>
<rect x="443" y="532" width="1" height="1" fill="#ffff00"/>
<rect x="451" y="531" width="2" height="1" fill="#ffff00"/>
<rect x="463" y="535" width="2" height="1" fill="#ffff00"/>
<rect x="474" y="530" width="1" height="1" fill="#ffff00"/>
<rect x="485" y="531" width="2" height="1" fill="#ffff00"/>
<rect x="498" y="531" width="1" height="1" fill="#ffff00"/>
<rect x="505" y="531" width="2" height="1" fill="#ffff00"/>
<rect x="518" y="531" width="2" height="1" fill="#ffff00"/>
<rect x="529" y="530" width="2" height="1" fill="#ffff00"/>
<rect x="534" y="534" width="2" height="1" fill="#ffff00"/>
<rect x="20" y="406" width="40" height="1" fill="#000"/><rect x="21" y="407" width="37" height="1" fill="#000"/><rect x="20" y="404" width="37" height="1" fill="#ffff00"/><rect x="19" y="405" width="40" height="1" fill="#ffff00"/><rect x="20" y="406" width="37" height="1" fill="#ffff00"/><text class="lg" x="62.5" y="409" textLength="42.5" lengthAdjust="spacing" filter="url(#crisp)">Daylight</text>
<text class="xl" x="97.5" y="580" textLength="23.5" lengthAdjust="spacing" filter="url(#crisp)">9PM</text>
<text class="xl" x="224.5" y="580" textLength="35.5" lengthAdjust="spacing" filter="url(#crisp)">14 Tue</text>
<text class="xl" x="364.0" y="580" textLength="24.0" lengthAdjust="spacing" filter="url(#crisp)">3AM</text>
<text class="xl" x="497.5" y="580" textLength="25.5" lengthAdjust="spacing" filter="url(#crisp)">6AM</text>
<text class="xl" x="11.5" y="594" textLength="89.5" lengthAdjust="spacing" filter="url(#crisp)">13 Mon Mar 2017</text>
<text class="xl" x="273.5" y="594" textLength="27.5" lengthAdjust="spacing" filter="url(#crisp)">Time</text>
</svg></body></html>
